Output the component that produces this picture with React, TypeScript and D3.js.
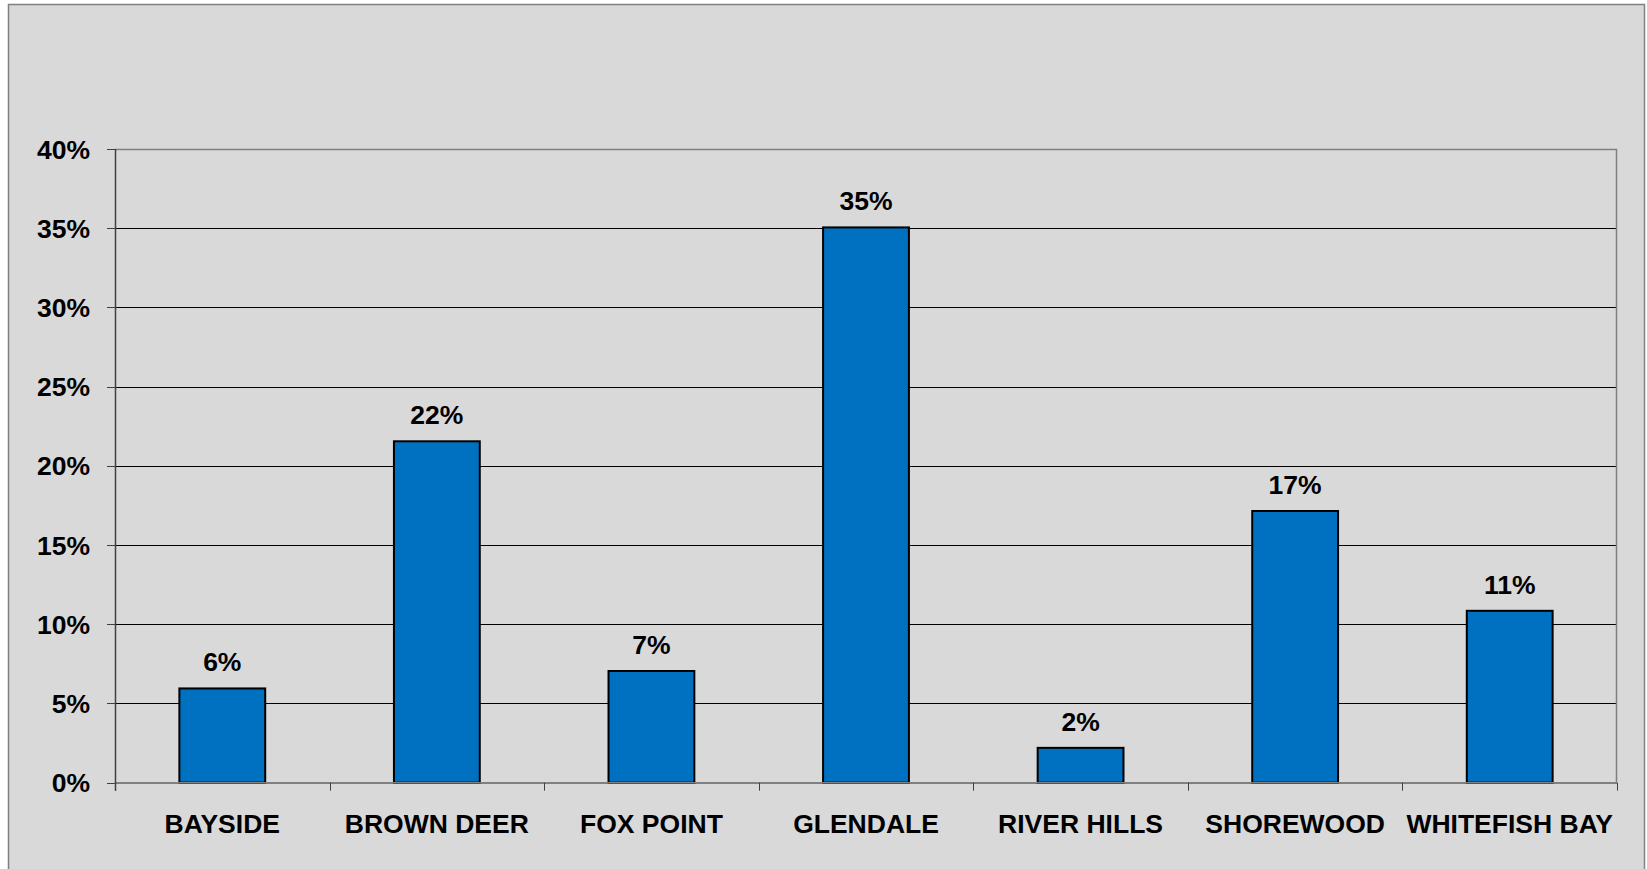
import React from "react";
import * as d3 from "d3";

const categories = ["BAYSIDE", "BROWN DEER", "FOX POINT", "GLENDALE", "RIVER HILLS", "SHOREWOOD", "WHITEFISH BAY"];
const values = [5.95, 21.55, 7.05, 35.05, 2.2, 17.15, 10.85];
const valueLabels = ["6%", "22%", "7%", "35%", "2%", "17%", "11%"];
const yTicks = [0, 5, 10, 15, 20, 25, 30, 35, 40];

export default function App() {
  const W = 1647;
  const H = 869;
  const left = 115;
  const right = 1617;
  const top = 149;
  const bottom = 782.7;
  const font = "'Liberation Sans', Arial, sans-serif";
  const fs = 26.5;

  const x = d3.scaleBand<string>().domain(categories).range([left, right]).paddingInner(0.6).paddingOuter(0.3);
  const xb = d3.scaleBand<string>().domain(categories).range([left, right]).padding(0);
  const y = d3.scaleLinear().domain([0, 40]).range([bottom, top]);

  return (
    <svg width={W} height={H} style={{ position: "absolute", left: 0, top: 0, background: "#fff" }}>
      <rect x={8.5} y={4.5} width={1636} height={870} fill="#d9d9d9" stroke="#808080" strokeWidth={1.5} />
      {yTicks.map((t) => (
        <g key={t}>
          <line
            x1={left}
            x2={right}
            y1={Math.round(y(t)) + 0.5}
            y2={Math.round(y(t)) + 0.5}
            stroke={t === 40 ? "#808080" : t === 0 ? "#808080" : "#000"}
            strokeWidth={t === 40 ? 1.5 : 1}
          />
          <line x1={107} x2={left} y1={Math.round(y(t)) + 0.5} y2={Math.round(y(t)) + 0.5} stroke="#404040" strokeWidth={1} />
          <text x={90} y={y(t) + 9.5} textAnchor="end" fontFamily={font} fontWeight="bold" fontSize={fs} fill="#000">
            {t}%
          </text>
        </g>
      ))}
      <line x1={right - 0.5} x2={right - 0.5} y1={top} y2={bottom} stroke="#808080" strokeWidth={1.5} />
      {categories.map((c, i) => {
        const bx = x(c)!;
        const bw = x.bandwidth();
        const by = y(values[i]);
        const cx = xb(c)! + xb.bandwidth() / 2;
        return (
          <g key={c}>
            <rect x={bx} y={by} width={bw} height={bottom - by} fill="#0070c0" stroke="#000" strokeWidth={2} />
            <text x={cx} y={by - 17} textAnchor="middle" fontFamily={font} fontWeight="bold" fontSize={fs} fill="#000">
              {valueLabels[i]}
            </text>
            <text x={cx} y={832.5} textAnchor="middle" fontFamily={font} fontWeight="bold" fontSize={fs} fill="#000">
              {c}
            </text>
          </g>
        );
      })}
      <line x1={left} x2={right} y1={bottom} y2={bottom} stroke="#808080" strokeWidth={1.5} />
      {[...categories.map((c) => xb(c)!), right].map((tx, i) => (
        <line key={i} x1={Math.round(tx) + 0.5} x2={Math.round(tx) + 0.5} y1={bottom} y2={bottom + 8} stroke="#404040" strokeWidth={1} />
      ))}
      <line x1={left + 0.5} x2={left + 0.5} y1={top} y2={bottom + 8} stroke="#404040" strokeWidth={1.5} />
    </svg>
  );
}
